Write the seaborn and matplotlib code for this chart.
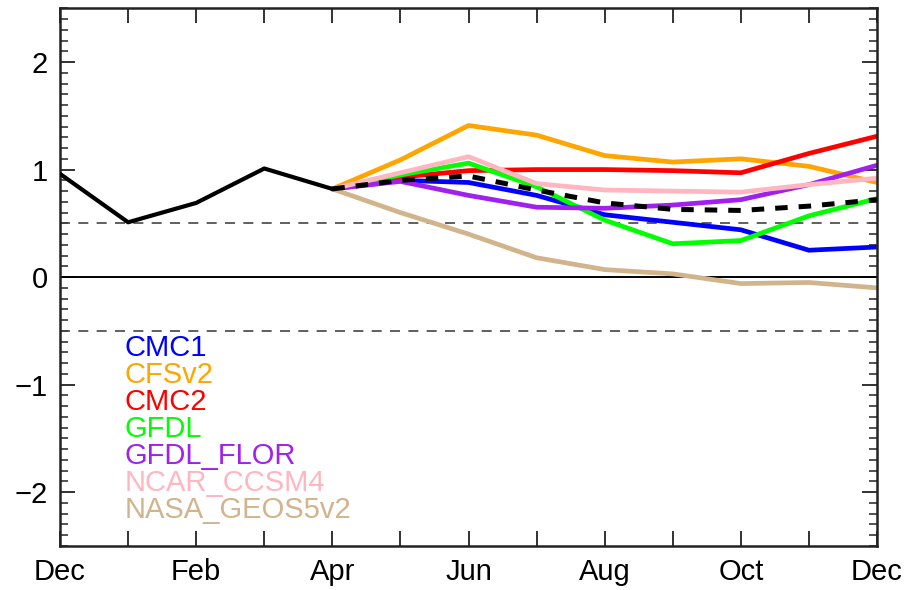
import numpy as np
import pandas as pd
import matplotlib
matplotlib.use("Agg")
import matplotlib.pyplot as plt
import seaborn as sns
from matplotlib.ticker import MultipleLocator

# months Dec .. Dec
months = ["Dec", "Jan", "Feb", "Mar", "Apr", "May", "Jun",
          "Jul", "Aug", "Sep", "Oct", "Nov", "Dec"]
tick_labels = ["Dec", "", "Feb", "", "Apr", "", "Jun", "", "Aug", "", "Oct", "", "Dec"]

# observed (Dec..Apr)
observed = [0.96, 0.51, 0.69, 1.01, 0.82]

# model forecasts, Apr..Dec
cmc1 = [0.82, 0.90, 0.88, 0.76, 0.58, 0.51, 0.44, 0.25, 0.28]
cfsv2 = [0.82, 1.09, 1.41, 1.32, 1.13, 1.07, 1.10, 1.03, 0.88]
cmc2 = [0.82, 0.93, 0.99, 1.00, 1.00, 0.99, 0.97, 1.15, 1.31]
gfdl = [0.82, 0.95, 1.06, 0.84, 0.53, 0.31, 0.34, 0.57, 0.73]
gfdl_flor = [0.82, 0.89, 0.76, 0.65, 0.64, 0.67, 0.72, 0.86, 1.04]
ncar_ccsm4 = [0.82, 0.97, 1.12, 0.87, 0.81, 0.80, 0.79, 0.86, 0.92]
nasa_geos5v2 = [0.82, 0.60, 0.40, 0.18, 0.07, 0.03, -0.06, -0.05, -0.10]
ens_mean = [0.82, 0.90, 0.94, 0.81, 0.69, 0.63, 0.62, 0.66, 0.72]

model_names = ["CMC1", "CFSv2", "CMC2", "GFDL", "GFDL_FLOR", "NCAR_CCSM4", "NASA_GEOS5v2"]
model_vals = [cmc1, cfsv2, cmc2, gfdl, gfdl_flor, ncar_ccsm4, nasa_geos5v2]
colors = ["#0000ff", "#ffa500", "#ff0000", "#00ff00", "#a020f0", "#ffb6c1", "#d2b48c"]

fc_x = list(range(4, 13))
df = pd.DataFrame({
    "x": fc_x * len(model_names),
    "y": sum(model_vals, []),
    "model": sum([[m] * len(fc_x) for m in model_names], []),
})

sns.set_style("ticks")
plt.rcParams["font.family"] = ["Liberation Sans", "DejaVu Sans"]

fig = plt.figure(figsize=(9.11, 5.90), dpi=100)
ax = fig.add_axes([0.0659, 0.0746, 0.8968, 0.9114])

ax.axhline(0, color="black", lw=1.4, zorder=1)
ax.axhline(0.5, color="#444444", lw=1.2, ls=(0, (6, 5)), zorder=1)
ax.axhline(-0.5, color="#444444", lw=1.2, ls=(0, (6, 5)), zorder=1)

sns.lineplot(data=df, x="x", y="y", hue="model", hue_order=model_names,
             palette=colors, lw=3.4, legend=False, ax=ax, zorder=2)
sns.lineplot(x=fc_x, y=ens_mean, color="black", lw=3.6, ax=ax, zorder=3,
             linestyle=(0, (2.5, 2.2)))
sns.lineplot(x=list(range(5)), y=observed, color="black", lw=3.0, ax=ax, zorder=3)

# colored labels
for i, (name, c) in enumerate(zip(model_names, colors)):
    ax.text(0.95, -0.66 - i * 0.251, name, color=c, fontsize=21,
            va="center", ha="left")

ax.set_xlim(0, 12)
ax.set_ylim(-2.5, 2.5)
ax.set_xticks(range(13))
ax.set_xticklabels(tick_labels)
ax.set_yticks([-2, -1, 0, 1, 2])
ax.set_yticklabels(["\u22122", "\u22121", "0", "1", "2"])
ax.yaxis.set_minor_locator(MultipleLocator(0.1))
ax.set_xlabel("")
ax.set_ylabel("")

ax.tick_params(axis="both", which="major", direction="in", length=11, width=1.3,
               top=True, right=True, labelsize=21, pad=9, colors="#222222",
               labelcolor="black")
ax.tick_params(axis="y", which="minor", direction="in", length=6, width=1.1,
               left=True, right=True, colors="#222222")
for s in ax.spines.values():
    s.set_linewidth(1.8)
    s.set_color("#222222")

fig.savefig("out.png", dpi=100)
